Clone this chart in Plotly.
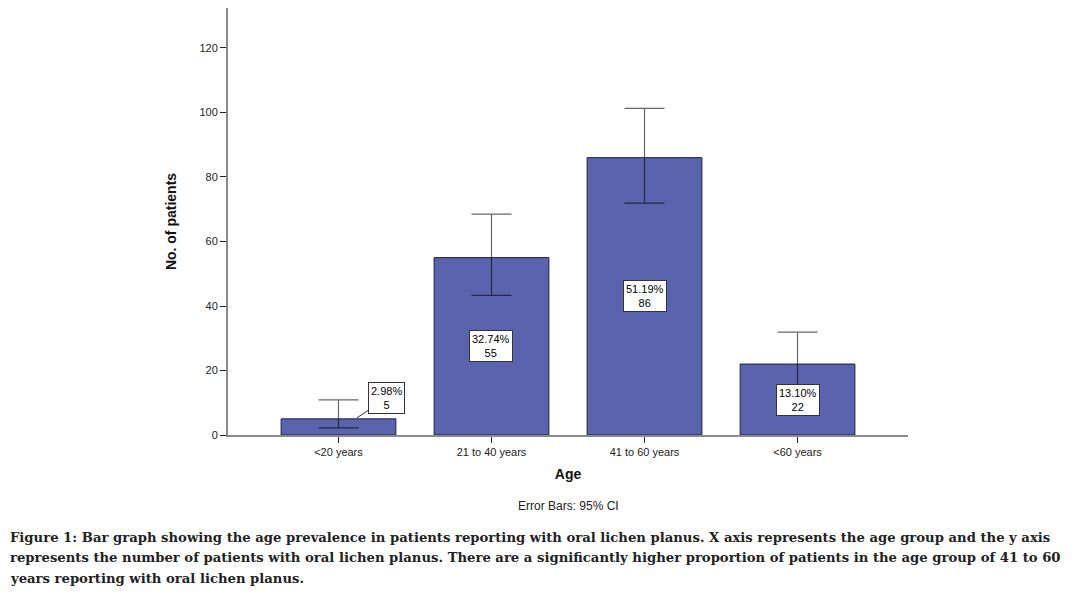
import plotly.graph_objects as go

categories = ["<20 years", "21 to 40 years", "41 to 60 years", "<60 years"]
counts = [5, 55, 86, 22]
percents = ["2.98%", "32.74%", "51.19%", "13.10%"]
ci_upper = [10.9, 68.5, 101.3, 31.9]
ci_lower = [2.2, 43.3, 71.9, 15.2]
y_ticks = [0, 20, 40, 60, 80, 100, 120]

caption_lines = [
    "Figure 1: Bar graph showing the age prevalence in patients reporting with oral lichen planus. "
    "X axis represents the age group and the y axis",
    "represents the number of patients with oral lichen planus. "
    "There are a significantly higher proportion of patients in the age group of 41 to 60",
    "years reporting with oral lichen planus.",
]

xpos = list(range(len(categories)))
err_plus = [u - c for u, c in zip(ci_upper, counts)]
err_minus = [c - l for c, l in zip(counts, ci_lower)]

fig = go.Figure()
fig.add_trace(go.Bar(
    x=xpos, y=counts, width=0.75,
    marker=dict(color="#5a63ad", line=dict(color="#1c1f4a", width=1)),
    error_y=dict(type="data", symmetric=False, array=err_plus, arrayminus=err_minus,
                 color="rgba(0,0,0,0.6)", thickness=1.2, width=20),
    hoverinfo="skip",
))

annots = []
for i, (c, p) in enumerate(zip(counts, percents)):
    common = dict(text=f"{p}<br>{c}", font=dict(family="Liberation Sans, Arial", size=11, color="#000"),
                  bgcolor="white", bordercolor="#333", borderwidth=1, borderpad=2,
                  xref="x", yref="y")
    if i == 0:
        annots.append(dict(x=i + 0.12, y=c + 0.3, showarrow=True, arrowhead=0, arrowwidth=1,
                           arrowcolor="#333", ax=30, ay=-20, standoff=0, **common))
    else:
        annots.append(dict(x=i, y=c / 2, showarrow=False, **common))

annots.append(dict(text="Error Bars: 95% CI", xref="paper", yref="paper", x=0.5, y=-0.166,
                   xanchor="center", yanchor="middle", showarrow=False,
                   font=dict(family="Liberation Sans, Arial", size=12, color="#222")))
for k, (line, yp) in enumerate(zip(caption_lines, [-0.239, -0.288, -0.335])):
    annots.append(dict(text="<b>" + line + "</b>", xref="paper", yref="paper", x=-220 / 680,
                       y=yp, xanchor="left", yanchor="middle", align="left", showarrow=False,
                       font=dict(family="DejaVu Serif", size=13.2, color="#222")))

fig.update_layout(
    width=1074, height=594,
    margin=dict(l=220, r=174, t=0, b=167),
    paper_bgcolor="white", plot_bgcolor="white",
    showlegend=False,
    annotations=annots,
    xaxis=dict(
        tickmode="array", tickvals=xpos,
        ticktext=[c.replace("<", "&lt;") for c in categories],
        range=[-0.722, 3.722], showgrid=False, zeroline=False,
        showline=True, linecolor="#8a8a8a", linewidth=2,
        ticks="outside", ticklen=6, tickcolor="#222", tickwidth=1,
        tickfont=dict(family="Liberation Sans, Arial", size=11, color="#222"),
        title=dict(text="<b>Age</b>", standoff=12,
                   font=dict(family="Liberation Sans, Arial", size=14, color="#111")),
    ),
    yaxis=dict(
        range=[0, 132.4], tickmode="array", tickvals=y_ticks,
        showgrid=False, zeroline=False,
        showline=True, linecolor="#8a8a8a", linewidth=2,
        ticks="outside", ticklen=6, tickcolor="#222", tickwidth=1,
        tickfont=dict(family="Liberation Sans, Arial", size=11, color="#222"),
        title=dict(text="<b>No. of patients</b>", standoff=20,
                   font=dict(family="Liberation Sans, Arial", size=14, color="#111")),
    ),
)

fig.write_html("out.html")
